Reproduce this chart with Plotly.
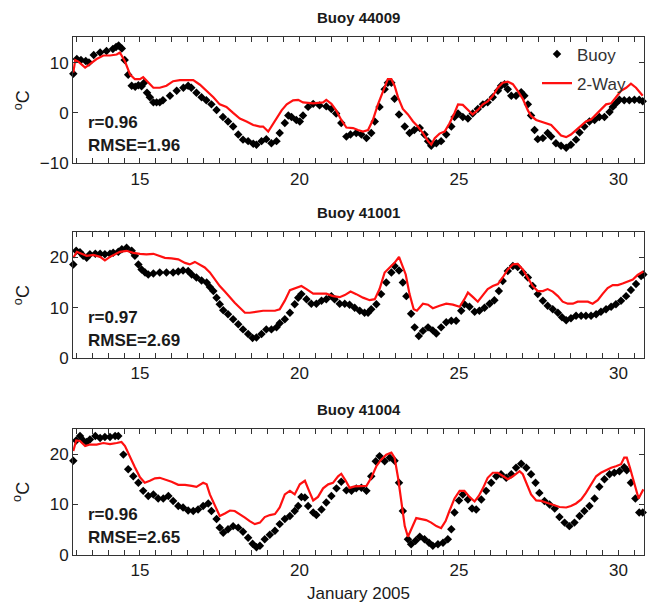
import plotly.graph_objects as go

# ---------------- data ----------------
titles = ["Buoy 44009", "Buoy 41001", "Buoy 41004"]
r_vals = ["r=0.96", "r=0.97", "r=0.96"]
rmse_vals = ["RMSE=1.96", "RMSE=2.69", "RMSE=2.65"]
x_ticks = [15, 20, 25, 30]

# Buoy 44009
b1_day = [12.91, 13.02, 13.15, 13.3, 13.4, 13.55, 13.75, 13.95, 14.15, 14.25, 14.33, 14.43, 14.52, 14.63,
          14.74, 14.85, 14.95, 15.05, 15.13, 15.22, 15.31, 15.42, 15.52, 15.62, 15.72, 15.94, 16.15, 16.36,
          16.51, 16.61, 16.77, 16.93, 17.08, 17.24, 17.4, 17.6, 17.76, 17.92, 18.08, 18.23, 18.39, 18.55,
          18.65, 18.81, 18.96, 19.12, 19.28, 19.38, 19.54, 19.65, 19.75, 19.9, 20.01, 20.11, 20.27, 20.43,
          20.63, 20.84, 21.0, 21.15, 21.31, 21.47, 21.6, 21.78, 21.94, 22.1, 22.25, 22.36, 22.51, 22.67,
          22.77, 22.88, 22.98, 23.12, 23.3, 23.45, 23.6, 23.77, 23.92, 24.03, 24.13, 24.29, 24.44, 24.6,
          24.76, 24.86, 24.97, 25.12, 25.28, 25.43, 25.59, 25.75, 25.9, 26.06, 26.22, 26.32, 26.43, 26.53,
          26.64, 26.79, 26.95, 27.05, 27.16, 27.26, 27.37, 27.47, 27.63, 27.78, 27.89, 28.04, 28.2, 28.36,
          28.51, 28.67, 28.78, 28.93, 29.09, 29.25, 29.4, 29.56, 29.72, 29.82, 29.92, 30.03, 30.18, 30.34,
          30.5, 30.65, 30.76]
b1_val = [7.8, 10.7, 10.5, 10.3, 10.0, 11.5, 12.0, 12.3, 12.7, 13.1, 13.4, 12.8, 10.5, 7.6,
          5.4, 5.2, 5.5, 5.3, 6.0, 4.0, 3.1, 2.1, 2.1, 2.1, 2.5, 3.4, 4.4, 5.0,
          5.4, 5.0, 4.0, 3.1, 2.5, 1.7, 0.6, -0.8, -1.7, -2.7, -4.3, -5.3, -5.6, -6.1,
          -6.3, -5.6, -5.2, -6.0, -5.6, -4.0, -2.0, -0.5, -0.8, -1.4, -1.7, -0.5, 1.2, 1.8,
          1.5, 1.3, 0.8, -0.1, -2.0, -4.7, -4.3, -4.0, -4.3, -5.0, -4.0, -1.7, 1.2, 4.7,
          6.0, 6.0, 2.8, -0.3, -2.7, -4.0, -3.4, -3.0, -4.3, -5.6, -6.5, -6.0, -5.6, -4.3,
          -2.7, -0.8, -0.1, -0.8, -1.1, -0.1, 0.8, 1.7, 2.1, 3.1, 4.4, 5.4, 5.7, 4.7,
          3.4, 3.4, 4.1, 3.4, 1.7, -0.5, -3.4, -5.2, -5.0, -4.0, -4.7, -6.0, -6.5, -6.9,
          -6.3, -5.3, -3.9, -2.7, -1.7, -1.4, -0.8, -0.8, 0.2, 1.2, 1.9, 2.6, 2.5, 2.5,
          2.6, 2.6, 2.3]
m1_day = [12.91, 12.97, 13.07, 13.28, 13.43, 13.64, 13.85, 14.06, 14.27, 14.37, 14.53, 14.69, 14.84, 15.0,
          15.1, 15.26, 15.42, 15.62, 15.83, 16.04, 16.25, 16.46, 16.67, 16.88, 17.09, 17.3, 17.5, 17.71,
          17.92, 18.13, 18.34, 18.55, 18.76, 18.86, 19.02, 19.12, 19.28, 19.44, 19.6, 19.8, 19.96, 20.11,
          20.43, 20.74, 20.84, 21.0, 21.15, 21.31, 21.47, 21.68, 21.83, 21.99, 22.15, 22.3, 22.46, 22.62,
          22.77, 22.88, 22.98, 23.09, 23.24, 23.4, 23.56, 23.71, 23.87, 24.03, 24.13, 24.24, 24.39, 24.55,
          24.7, 24.86, 24.97, 25.12, 25.28, 25.43, 25.59, 25.75, 25.9, 26.06, 26.22, 26.37, 26.53, 26.69,
          26.84, 27.0, 27.16, 27.26, 27.42, 27.58, 27.73, 27.89, 28.04, 28.2, 28.36, 28.51, 28.67, 28.82,
          28.98, 29.14, 29.3, 29.45, 29.61, 29.77, 29.92, 30.08, 30.24, 30.39, 30.55, 30.76]
m1_val = [8.0, 10.5, 10.2, 9.0, 9.7, 10.7, 11.4, 11.4, 11.6, 12.0, 10.2, 7.6, 6.7, 6.7,
          7.1, 6.0, 5.0, 5.0, 5.4, 6.3, 6.5, 6.5, 6.5, 5.6, 4.4, 3.1, 1.7, 1.2,
          0.0, -1.1, -1.7, -2.4, -2.7, -2.7, -3.7, -2.7, -1.1, 0.5, 1.7, 2.5, 2.6, 2.1,
          1.9, 2.1, 2.6, 1.8, 0.5, -1.4, -2.9, -3.0, -3.4, -3.7, -3.4, -1.4, 1.7, 4.4,
          6.7, 6.7, 5.4, 3.1, 0.8, -0.3, -1.7, -2.7, -4.0, -5.6, -6.3, -5.0, -4.1, -3.7,
          -2.1, 0.0, 1.7, 1.6, 0.6, -0.3, 0.6, 1.7, 2.3, 3.4, 5.0, 6.0, 6.2, 5.7,
          4.4, 2.8, 0.5, -0.6, -1.4, -1.7, -2.1, -2.4, -3.4, -4.5, -4.8, -4.3, -3.4, -2.6,
          -1.7, -1.3, -0.3, 0.8, 1.7, 1.9, 3.1, 4.4, 5.0, 5.8, 5.0, 3.4]

# Buoy 41001
b2_day = [12.91, 13.0, 13.12, 13.22, 13.33, 13.43, 13.6, 13.75, 13.9, 14.06, 14.16, 14.32, 14.43, 14.58,
          14.74, 14.84, 14.95, 15.05, 15.16, 15.26, 15.42, 15.62, 15.83, 16.04, 16.2, 16.35, 16.51, 16.62,
          16.77, 16.93, 17.09, 17.19, 17.3, 17.4, 17.5, 17.61, 17.76, 17.92, 18.08, 18.23, 18.39, 18.53,
          18.65, 18.81, 18.96, 19.12, 19.28, 19.38, 19.54, 19.7, 19.85, 19.96, 20.06, 20.22, 20.37, 20.53,
          20.69, 20.84, 21.0, 21.1, 21.26, 21.42, 21.57, 21.73, 21.89, 22.04, 22.15, 22.25, 22.41, 22.56,
          22.72, 22.88, 22.98, 23.12, 23.24, 23.35, 23.5, 23.61, 23.74, 23.87, 24.03, 24.18, 24.29, 24.44,
          24.6, 24.76, 24.91, 25.07, 25.17, 25.33, 25.49, 25.64, 25.8, 25.96, 26.11, 26.25, 26.37, 26.53,
          26.69, 26.84, 27.0, 27.16, 27.31, 27.47, 27.63, 27.78, 27.94, 28.1, 28.23, 28.36, 28.51, 28.67,
          28.83, 28.98, 29.14, 29.3, 29.45, 29.61, 29.77, 29.92, 30.08, 30.24, 30.39, 30.55, 30.71, 30.78]
b2_val = [18.6, 21.3, 21.0, 20.3, 19.9, 20.6, 20.7, 20.7, 20.6, 20.7, 20.9, 21.1, 21.6, 21.9,
          21.3, 20.3, 18.6, 17.6, 17.0, 16.6, 16.8, 17.0, 17.0, 17.0, 17.2, 17.4, 17.3, 16.6,
          16.0, 15.4, 15.0, 14.1, 13.3, 12.0, 10.7, 9.5, 8.7, 7.7, 6.7, 5.7, 4.8, 4.0,
          4.1, 4.8, 5.7, 5.7, 6.1, 6.9, 7.7, 9.0, 10.7, 12.0, 12.7, 11.7, 10.8, 10.8,
          11.4, 11.7, 12.3, 11.7, 10.8, 10.8, 10.6, 10.0, 9.4, 9.0, 9.0, 9.7, 10.7, 12.7,
          15.0, 17.0, 18.3, 17.4, 15.0, 12.3, 8.8, 6.1, 4.4, 5.4, 6.1, 5.5, 4.9, 6.1,
          7.1, 7.4, 7.4, 9.4, 10.7, 10.2, 9.2, 9.4, 10.0, 10.8, 11.5, 13.3, 15.3, 17.3,
          18.3, 18.1, 17.0, 16.0, 14.3, 12.7, 11.4, 10.4, 9.7, 9.0, 8.1, 7.5, 7.9, 8.4,
          8.4, 8.4, 8.4, 8.7, 9.2, 9.7, 10.2, 10.7, 11.4, 12.3, 13.5, 14.7, 16.3, 16.6]
m2_day = [12.91, 13.02, 13.17, 13.33, 13.54, 13.75, 13.9, 14.06, 14.22, 14.37, 14.58, 14.79, 15.0, 15.2,
          15.42, 15.57, 15.78, 15.99, 16.2, 16.41, 16.56, 16.72, 16.88, 17.03, 17.19, 17.35, 17.5, 17.66,
          17.82, 17.97, 18.13, 18.29, 18.44, 18.65, 18.86, 19.07, 19.23, 19.38, 19.54, 19.7, 19.9, 20.06,
          20.22, 20.43, 20.63, 20.84, 21.05, 21.26, 21.42, 21.6, 21.78, 21.99, 22.2, 22.36, 22.51, 22.67,
          22.83, 22.98, 23.12, 23.22, 23.33, 23.45, 23.58, 23.68, 23.87, 24.03, 24.18, 24.39, 24.6, 24.81,
          25.02, 25.17, 25.28, 25.44, 25.59, 25.75, 25.9, 26.06, 26.22, 26.37, 26.53, 26.69, 26.84, 27.0,
          27.16, 27.31, 27.47, 27.63, 27.78, 27.94, 28.1, 28.25, 28.41, 28.57, 28.72, 28.88, 29.04, 29.19,
          29.35, 29.51, 29.66, 29.82, 29.98, 30.13, 30.29, 30.45, 30.6, 30.78]
m2_val = [19.9, 21.1, 20.7, 20.3, 20.5, 20.1, 19.4, 20.1, 20.6, 21.1, 21.3, 20.9, 20.7, 20.6,
          20.7, 20.3, 19.9, 19.8, 19.6, 18.9, 18.6, 19.1, 18.5, 18.0, 17.0, 15.6, 14.3, 13.2,
          12.0, 11.0, 10.0, 9.0, 9.0, 9.2, 9.4, 9.4, 9.4, 9.7, 11.4, 13.5, 14.0, 14.3,
          13.7, 12.8, 12.8, 12.8, 12.3, 12.1, 12.5, 13.2, 12.7, 12.0, 11.5, 11.7, 13.7, 17.0,
          18.0, 18.9, 20.1, 18.6, 16.6, 12.7, 9.7, 9.4, 10.8, 10.6, 9.9, 10.4, 10.8, 10.6,
          10.2, 11.7, 13.0, 12.1, 11.2, 12.5, 13.7, 14.3, 14.7, 16.0, 17.6, 18.6, 18.7, 17.6,
          15.8, 14.3, 13.3, 13.3, 13.7, 13.2, 12.3, 11.2, 10.8, 10.8, 11.2, 11.2, 11.2, 10.8,
          11.5, 12.8, 13.9, 14.5, 14.5, 14.8, 15.2, 15.6, 16.5, 17.2]

# Buoy 41004
b3_day = [12.91, 13.0, 13.12, 13.22, 13.33, 13.43, 13.6, 13.75, 13.9, 14.06, 14.22, 14.32, 14.48, 14.63,
          14.79, 14.95, 15.1, 15.26, 15.42, 15.57, 15.73, 15.89, 16.04, 16.2, 16.35, 16.51, 16.67, 16.82,
          16.98, 17.14, 17.24, 17.4, 17.5, 17.61, 17.76, 17.92, 18.08, 18.23, 18.39, 18.53, 18.65, 18.76,
          18.91, 19.07, 19.23, 19.38, 19.54, 19.7, 19.85, 19.96, 20.06, 20.17, 20.27, 20.43, 20.53, 20.69,
          20.84, 21.0, 21.16, 21.31, 21.47, 21.63, 21.78, 21.94, 22.1, 22.25, 22.39, 22.51, 22.67, 22.83,
          22.98, 23.12, 23.24, 23.4, 23.5, 23.64, 23.77, 23.92, 24.06, 24.18, 24.34, 24.5, 24.65, 24.76,
          24.86, 25.0, 25.12, 25.28, 25.41, 25.54, 25.7, 25.85, 26.01, 26.17, 26.32, 26.48, 26.64, 26.79,
          26.95, 27.11, 27.26, 27.4, 27.52, 27.68, 27.84, 28.0, 28.15, 28.31, 28.46, 28.62, 28.78, 28.93,
          29.09, 29.25, 29.4, 29.56, 29.72, 29.87, 30.03, 30.18, 30.26, 30.39, 30.53, 30.65, 30.76]
b3_val = [18.7, 22.7, 23.6, 22.7, 22.4, 22.9, 23.6, 23.2, 23.4, 23.4, 23.6, 23.6, 19.9, 17.0,
          15.6, 14.3, 12.7, 11.7, 12.0, 11.2, 11.2, 11.7, 10.7, 9.7, 9.4, 8.8, 8.7, 9.0,
          9.7, 10.2, 8.7, 7.1, 5.4, 4.4, 5.1, 5.7, 5.4, 4.6, 3.4, 2.2, 1.5, 1.8,
          3.1, 4.0, 4.8, 6.1, 7.1, 7.7, 8.7, 9.7, 11.5, 11.4, 9.7, 8.4, 7.9, 9.0,
          10.4, 11.7, 13.2, 14.5, 12.8, 12.7, 13.2, 13.3, 12.7, 15.6, 18.6, 19.6, 18.6, 19.3,
          18.7, 14.3, 8.7, 3.1, 2.1, 2.8, 3.6, 3.1, 2.4, 1.8, 2.1, 2.4, 3.1, 5.1,
          8.4, 10.8, 12.0, 11.0, 9.2, 9.0, 11.0, 12.7, 14.3, 15.6, 16.0, 15.3, 16.0, 17.3,
          18.1, 17.3, 16.0, 14.3, 12.3, 10.7, 10.0, 9.2, 7.5, 6.4, 5.7, 6.4, 7.7, 8.7,
          9.7, 11.2, 13.5, 15.0, 16.0, 16.3, 16.6, 17.4, 16.8, 14.3, 11.2, 8.4, 8.4]
m3_day = [12.91, 13.0, 13.12, 13.28, 13.43, 13.64, 13.85, 14.06, 14.27, 14.42, 14.53, 14.69, 14.84, 15.0,
          15.15, 15.31, 15.47, 15.62, 15.78, 15.99, 16.2, 16.41, 16.62, 16.77, 16.98, 17.09, 17.19, 17.35,
          17.5, 17.66, 17.82, 17.97, 18.13, 18.29, 18.44, 18.6, 18.76, 18.91, 19.07, 19.23, 19.38, 19.54,
          19.7, 19.85, 20.01, 20.17, 20.3, 20.43, 20.58, 20.74, 20.9, 21.05, 21.21, 21.31, 21.45, 21.57,
          21.73, 21.94, 22.1, 22.25, 22.41, 22.56, 22.72, 22.88, 22.98, 23.09, 23.19, 23.3, 23.4, 23.5,
          23.66, 23.82, 23.97, 24.13, 24.29, 24.44, 24.58, 24.7, 24.86, 25.02, 25.17, 25.33, 25.49, 25.62,
          25.75, 25.9, 26.06, 26.22, 26.37, 26.53, 26.69, 26.9, 27.0, 27.11, 27.26, 27.42, 27.58, 27.73,
          27.94, 28.15, 28.36, 28.51, 28.67, 28.83, 28.98, 29.14, 29.3, 29.45, 29.61, 29.77, 29.92, 30.08,
          30.18, 30.26, 30.36, 30.5, 30.63, 30.78]
m3_val = [20.6, 22.7, 22.6, 21.6, 21.9, 21.9, 22.2, 22.0, 22.2, 22.4, 21.6, 19.3, 17.4, 15.4,
          14.3, 14.7, 15.2, 15.3, 15.0, 14.5, 13.9, 13.9, 13.7, 13.5, 14.3, 14.0, 12.0, 9.7,
          7.7, 8.2, 8.8, 8.7, 8.1, 7.4, 6.7, 6.1, 6.4, 7.5, 7.9, 8.1, 9.4, 12.0,
          12.7, 12.0, 14.0, 14.7, 12.7, 10.8, 11.5, 13.2, 14.0, 14.3, 15.6, 16.1, 14.7, 13.3,
          13.6, 13.7, 13.7, 15.3, 17.6, 18.9, 19.9, 20.3, 19.3, 15.3, 10.4, 5.7, 3.6, 5.1,
          7.3, 7.1, 6.9, 6.4, 5.7, 5.3, 6.7, 8.7, 11.2, 12.7, 12.7, 11.5, 10.6, 11.7,
          13.2, 15.3, 16.3, 16.3, 15.6, 15.0, 15.6, 16.6, 16.0, 14.3, 12.0, 10.8, 10.7, 10.4,
          10.0, 9.5, 9.4, 9.7, 10.2, 11.0, 12.3, 14.1, 15.6, 16.3, 16.8, 17.3, 17.6, 18.0,
          19.3, 19.3, 17.3, 14.0, 11.2, 13.0]

buoy_days = [b1_day, b2_day, b3_day]
buoy_vals = [b1_val, b2_val, b3_val]
model_days = [m1_day, m2_day, m3_day]
model_vals = [m1_val, m2_val, m3_val]
y_ranges = [[-10, 15], [0, 25], [0, 25]]
y_ticks = [[-10, 0, 10], [0, 10, 20], [0, 10, 20]]
x_range = [12.9, 30.8]

# ---------------- figure ----------------
W, H = 650, 616
FONT = "Liberation Sans, Arial, Helvetica, sans-serif"
TXT = "#1a1a1a"
AX = "#333333"
x_dom = [73 / W, 644 / W]
panel_px = [(38, 166), (236, 364), (436, 564)]  # top, bottom pixel rows

fig = go.Figure()
for i in range(3):
    xa = "x" if i == 0 else f"x{i+1}"
    ya = "y" if i == 0 else f"y{i+1}"
    fig.add_trace(go.Scatter(
        x=buoy_days[i], y=buoy_vals[i], xaxis=xa, yaxis=ya, mode="markers",
        marker=dict(symbol="diamond", size=6.5, color="black"),
        name="Buoy", showlegend=(i == 0), legendgroup="b", cliponaxis=False))
    fig.add_trace(go.Scatter(
        x=model_days[i], y=model_vals[i], xaxis=xa, yaxis=ya, mode="lines",
        line=dict(color="#ff1010", width=2.2),
        name="2-Way", showlegend=(i == 0), legendgroup="m"))

layout = dict(
    width=W, height=H, margin=dict(l=0, r=0, t=0, b=0),
    paper_bgcolor="white", plot_bgcolor="white",
    font=dict(family=FONT, size=17, color=TXT),
    legend=dict(x=537 / W, y=1 - 37 / H, xanchor="left", yanchor="top",
                bgcolor="rgba(0,0,0,0)", font=dict(size=17, color="#333"),
                traceorder="grouped", tracegroupgap=4),
)
minor_x = dict(dtick=0.5, tick0=13, ticks="inside", ticklen=5, tickcolor=AX, showgrid=False)
annotations = []
for i in range(3):
    top, bot = panel_px[i]
    sfx = "" if i == 0 else str(i + 1)
    top_sfx = str(i + 4)
    axis_common = dict(showline=True, linecolor=AX, linewidth=1, mirror="ticks",
                       ticks="inside", ticklen=5, tickcolor=AX, showgrid=False,
                       zeroline=False, tickfont=dict(size=17, color=TXT))
    layout["xaxis" + sfx] = dict(axis_common, domain=x_dom, anchor="y" + sfx,
                                 range=x_range, tickvals=x_ticks, minor=minor_x)
    # top-side copy of the x axis to carry the mirrored minor ticks
    layout["xaxis" + top_sfx] = dict(overlaying="x" + sfx, side="top", anchor="y" + sfx,
                                     range=x_range, tickvals=x_ticks, showticklabels=False,
                                     ticks="inside", ticklen=5, tickcolor=AX, showline=True,
                                     linecolor=AX, showgrid=False, zeroline=False, minor=minor_x)
    layout["yaxis" + sfx] = dict(axis_common, domain=[1 - bot / H, 1 - top / H],
                                 anchor="x" + sfx, range=y_ranges[i], tickvals=y_ticks[i])
    # title
    annotations.append(dict(text="<b>" + titles[i] + "</b>", xref="paper", yref="paper",
                            x=358.5 / W, y=1 - (top - 20) / H, showarrow=False,
                            font=dict(size=15, color=TXT), xanchor="center", yanchor="middle"))
    # stats
    annotations.append(dict(text="<b>" + r_vals[i] + "</b>", xref="paper", yref="paper",
                            x=86 / W, y=1 - (top + 87) / H, showarrow=False,
                            font=dict(size=17, color=TXT), xanchor="left", yanchor="middle"))
    annotations.append(dict(text="<b>" + rmse_vals[i] + "</b>", xref="paper", yref="paper",
                            x=86 / W, y=1 - (top + 110) / H, showarrow=False,
                            font=dict(size=17, color=TXT), xanchor="left", yanchor="middle"))
    # y label
    annotations.append(dict(text="<sup>o</sup>C", xref="paper", yref="paper",
                            x=22 / W, y=1 - ((top + bot) / 2) / H, showarrow=False, textangle=-90,
                            font=dict(size=18, color=TXT), xanchor="center", yanchor="middle"))
annotations.append(dict(text="January 2005", xref="paper", yref="paper",
                        x=358.5 / W, y=1 - 603 / H, showarrow=False,
                        font=dict(size=17, color=TXT), xanchor="center", yanchor="middle"))
layout["annotations"] = annotations
fig.update_layout(**layout)
fig.write_html("out.html")
